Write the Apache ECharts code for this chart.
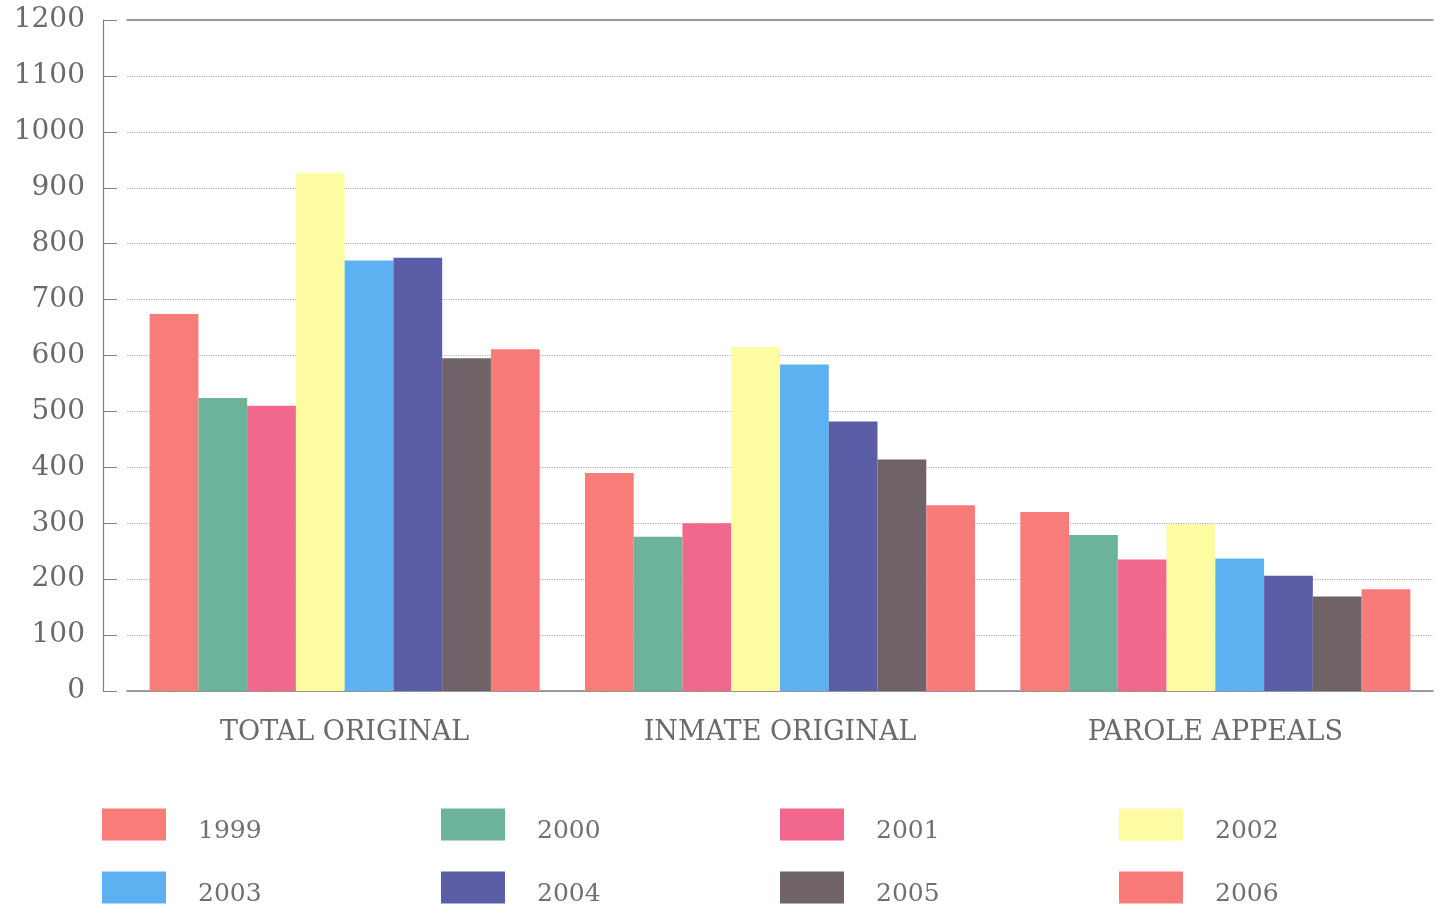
<!DOCTYPE html>
<html>
<head>
<meta charset="utf-8">
<script src="https://cdn.jsdelivr.net/npm/echarts@6/dist/echarts.min.js"></script>
<style>html,body{margin:0;padding:0;background:#fff;}#c{width:1451px;height:913px;}</style>
</head>
<body>
<div id="c"></div>
<script>
const categories = ['TOTAL ORIGINAL', 'INMATE ORIGINAL', 'PAROLE APPEALS'];
const years = ['1999', '2000', '2001', '2002', '2003', '2004', '2005', '2006'];
const v1999 = [674, 390, 320];
const v2000 = [524, 276, 279];
const v2001 = [510, 300, 235];
const v2002 = [926, 615, 298];
const v2003 = [770, 584, 237];
const v2004 = [775, 482, 206];
const v2005 = [595, 414, 169];
const v2006 = [611, 332, 182];
const yTicks = [0, 100, 200, 300, 400, 500, 600, 700, 800, 900, 1000, 1100, 1200];

const seriesValues = [v1999, v2000, v2001, v2002, v2003, v2004, v2005, v2006];
const colors = ['#f87d79', '#6db39c', '#f2678d', '#fdfca2', '#5db1f1', '#5b5ea7', '#6f6269', '#f87b79'];
const font = 'DejaVu Serif';

const chart = echarts.init(document.getElementById('c'));
chart.setOption({
  backgroundColor: '#ffffff',
  animation: false,
  color: colors,
  grid: { left: 127, width: 1306, top: 20, bottom: 222 },
  legend: {
    left: 97, top: 795, width: 1380,
    itemWidth: 64, itemHeight: 46, itemGap: 0,
    icon: 'path://M0,0h64v32h-64zM0,45.99h0.01v0.01h-0.01z',
    data: years,
    textStyle: { fontFamily: font, fontSize: 25, color: '#707070', width: 243, lineHeight: 63, padding: [0, 0, 0, 27] }
  },
  xAxis: [{
    type: 'category', data: categories, position: 'bottom',
    axisLine: { show: true, lineStyle: { color: '#808080', width: 1.5 } },
    axisTick: { show: false },
    axisLabel: { fontFamily: font, fontSize: 27, color: '#6a6a6a', margin: 28 },
    splitLine: { show: false }
  }, {
    type: 'category', data: categories, position: 'top',
    axisLine: { show: true, lineStyle: { color: '#808080', width: 1.5 } },
    axisTick: { show: false }, axisLabel: { show: false }, splitLine: { show: false }
  }],
  yAxis: {
    type: 'value', min: 0, max: 1200, interval: 100, offset: 24,
    axisLine: { show: true, lineStyle: { color: '#808080', width: 1.2 } },
    axisTick: { show: true, inside: true, length: 14, lineStyle: { color: '#808080' } },
    axisLabel: {
      fontFamily: font, fontSize: 28, color: '#6a6a6a', margin: 18,
      formatter: function (v) { return yTicks.indexOf(v) >= 0 ? String(v) : ''; }
    },
    splitLine: { show: true, lineStyle: { color: '#b0b0b0', type: 'dotted', width: 1.2 } }
  },
  series: years.map(function (y, i) {
    return {
      name: y, type: 'bar', data: seriesValues[i],
      barGap: '0%', barCategoryGap: '10.4%',
      itemStyle: { color: colors[i] }
    };
  })
});
</script>
</body>
</html>
